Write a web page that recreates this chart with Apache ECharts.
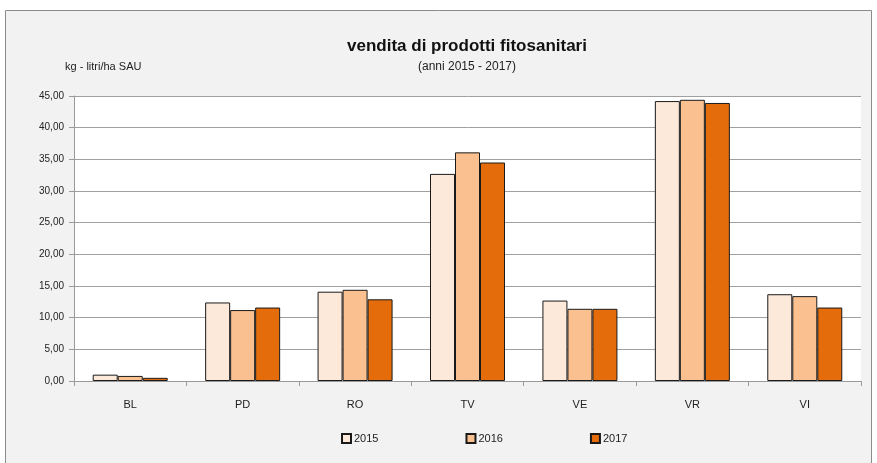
<!DOCTYPE html>
<html>
<head>
<meta charset="utf-8">
<script src="https://cdn.jsdelivr.net/npm/echarts@6/dist/echarts.min.js"></script>
<style>
  html, body { margin: 0; padding: 0; background: #fff; }
  #main { width: 877px; height: 463px; }
</style>
</head>
<body>
<div id="main"></div>
<script>
// province
const categories = ["BL", "PD", "RO", "TV", "VE", "VR", "VI"];
const years = ["2015", "2016", "2017"];
// kg - litri/ha SAU
const v2015 = [1.0, 12.4, 14.1, 32.7, 12.7, 44.2, 13.7];
const v2016 = [0.8, 11.2, 14.4, 36.1, 11.4, 44.4, 13.4];
const v2017 = [0.5, 11.6, 12.9, 34.5, 11.4, 43.9, 11.6];
const colors = ["#fde9d9", "#fac090", "#e46c0a"];

const font = "'Liberation Sans', Arial, sans-serif";
const chart = echarts.init(document.getElementById("main"));

chart.setOption({
  animation: false,
  backgroundColor: "#fff",
  graphic: [
    {
      type: "rect",
      z: -10,
      shape: { x: 5.5, y: 10.5, width: 866, height: 460 },
      style: { fill: "#f2f2f2", stroke: "#8c8c8c", lineWidth: 1 }
    },
    {
      type: "text",
      left: 65,
      top: 61,
      style: { text: "kg - litri/ha SAU", font: "11px " + font, fill: "#222" }
    }
  ],
  title: {
    text: "vendita di prodotti fitosanitari",
    subtext: "(anni 2015 - 2017)",
    left: 462,
    textAlign: "center",
    top: 33,
    itemGap: 6,
    textStyle: { fontFamily: font, fontSize: 17, fontWeight: "bold", color: "#111" },
    subtextStyle: { fontFamily: font, fontSize: 12, color: "#222" }
  },
  legend: {
    data: years,
    icon: "rect",
    bottom: 14,
    left: 336,
    itemWidth: 9,
    itemHeight: 9,
    itemGap: 87,
    textStyle: { fontFamily: font, fontSize: 11, color: "#222", padding: [0, 0, 0, -2] }
  },
  grid: {
    left: 74,
    right: 16,
    top: 96,
    bottom: 82,
    show: true,
    backgroundColor: "#fff",
    borderWidth: 0
  },
  xAxis: {
    type: "category",
    data: categories,
    axisLine: { lineStyle: { color: "#9a9a9a" } },
    axisTick: { show: true, length: 5, lineStyle: { color: "#9a9a9a" } },
    axisLabel: { fontFamily: font, fontSize: 11, color: "#222", margin: 18 }
  },
  yAxis: {
    type: "value",
    min: 0,
    max: 45,
    interval: 5,
    axisLine: { show: true, lineStyle: { color: "#9a9a9a" } },
    axisTick: { show: true, length: 5, lineStyle: { color: "#9a9a9a" } },
    splitLine: { lineStyle: { color: "#a0a0a0" } },
    axisLabel: {
      fontFamily: font,
      fontSize: 10,
      color: "#222",
      margin: 10,
      formatter: v => v.toFixed(2).replace(".", ",")
    }
  },
  series: [v2015, v2016, v2017].map((d, i) => ({
    name: years[i],
    type: "bar",
    data: d,
    barWidth: 25,
    barGap: "0%",
    itemStyle: { color: colors[i], borderColor: "#1a1a1a", borderWidth: 1 }
  }))
});
</script>
</body>
</html>
